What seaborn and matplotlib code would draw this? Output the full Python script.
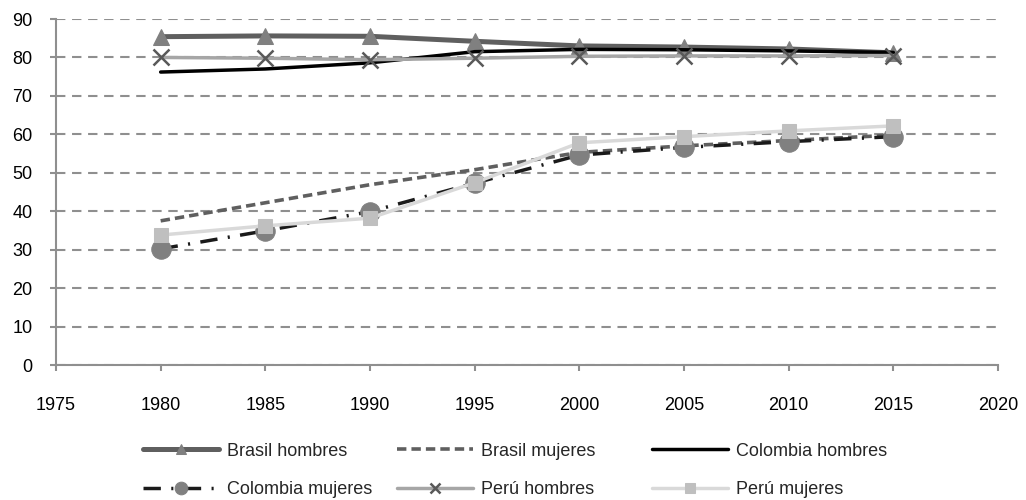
import matplotlib
matplotlib.use("Agg")
import matplotlib.pyplot as plt
import seaborn as sns
import pandas as pd

years = [1980, 1985, 1990, 1995, 2000, 2005, 2010, 2015]
brasil_hombres = [85.4, 85.6, 85.5, 84.2, 83.0, 82.7, 82.2, 81.2]
brasil_mujeres = [37.5, 42.2, 46.9, 50.8, 55.3, 57.0, 58.4, 59.8]
colombia_hombres = [76.2, 77.0, 78.6, 81.5, 82.1, 82.0, 81.7, 81.3]
colombia_mujeres = [30.2, 34.9, 39.9, 47.3, 54.6, 56.6, 58.1, 59.4]
peru_hombres = [80.0, 79.8, 79.4, 79.8, 80.3, 80.4, 80.4, 80.5]
peru_mujeres = [33.8, 36.2, 38.2, 47.4, 57.8, 59.4, 60.9, 62.2]

series_names = ["Brasil hombres", "Brasil mujeres", "Colombia hombres",
                "Colombia mujeres", "Perú hombres", "Perú mujeres"]
series_values = [brasil_hombres, brasil_mujeres, colombia_hombres,
                 colombia_mujeres, peru_hombres, peru_mujeres]

styles = {
    "Brasil hombres": dict(color="#5f5f5f", lw=3.6, ls="-", marker="^", ms=12, mfc="#808080", mec="#808080"),
    "Brasil mujeres": dict(color="#5f5f5f", lw=2.6, ls=(0, (2.6, 1.4)), marker=None),
    "Colombia hombres": dict(color="#000000", lw=2.5, ls="-", marker=None),
    "Colombia mujeres": dict(color="#1a1a1a", lw=2.5, ls=(0, (5, 3, 0.6, 3)), marker="o", ms=14, mfc="#808080", mec="#808080"),
    "Perú hombres": dict(color="#a6a6a6", lw=2.5, ls="-", marker="x", ms=11, mfc="#595959", mec="#595959", mew=1.8),
    "Perú mujeres": dict(color="#d9d9d9", lw=2.5, ls="-", marker="s", ms=10, mfc="#bfbfbf", mec="#bfbfbf"),
}

sns.set_theme(style="white")
plt.rcParams["font.family"] = ["Liberation Sans", "DejaVu Sans"]

W, H = 1026, 500
fig = plt.figure(figsize=(W / 100, H / 100), dpi=100)
ax = fig.add_axes([56 / W, 1 - 365 / H, (998 - 56) / W, (365 - 19) / H])

for name, vals in zip(series_names, series_values):
    st = dict(styles[name])
    df = pd.DataFrame({"year": years, "value": vals})
    kw = dict(color=st.pop("color"), linewidth=st.pop("lw"), linestyle=st.pop("ls"))
    marker = st.pop("marker")
    if marker is not None:
        kw.update(marker=marker, markersize=st.pop("ms"),
                  markerfacecolor=st.pop("mfc"), markeredgecolor=st.pop("mec"))
        if "mew" in st:
            kw["markeredgewidth"] = st.pop("mew")
    sns.lineplot(data=df, x="year", y="value", ax=ax, label=name, **kw)

ax.set_xlim(1975, 2020)
ax.set_ylim(0, 90)
ax.set_xticks(range(1975, 2021, 5))
ax.set_yticks(range(0, 91, 10))
ax.set_xlabel("")
ax.set_ylabel("")
ax.yaxis.grid(True, color="#8f8f8f", linestyle=(0, (4.5, 3.2)), linewidth=1.5)
ax.xaxis.grid(False)
ax.set_axisbelow(True)
for s in ["top", "right"]:
    ax.spines[s].set_visible(False)
for s in ["left", "bottom"]:
    ax.spines[s].set_color("#8f8f8f")
    ax.spines[s].set_linewidth(1.5)
ax.tick_params(axis="both", which="both", direction="out", length=4, width=1.5,
               color="#8f8f8f", labelsize=13, labelcolor="black", bottom=True, left=True)
ax.tick_params(axis="x", pad=19)
ax.tick_params(axis="y", pad=13)

handles, labels = ax.get_legend_handles_labels()
ax.get_legend().remove()

fs = 13
px = fs * 100 / 72
col_x = [143, 397, 652]
row_y = [451, 490]
for i, (h, l) in enumerate(zip(handles, labels)):
    r, c = divmod(i, 3)
    fig.legend([h], [l], loc="center left",
               bbox_to_anchor=(col_x[c] / W, 1 - row_y[r] / H),
               frameon=False, borderpad=0, borderaxespad=0,
               handlelength=76 / px, handletextpad=8 / px, numpoints=1,
               markerscale=0.65,
               prop=dict(family=["Liberation Sans", "DejaVu Sans"], size=fs))

fig.savefig("out.png", dpi=100)
